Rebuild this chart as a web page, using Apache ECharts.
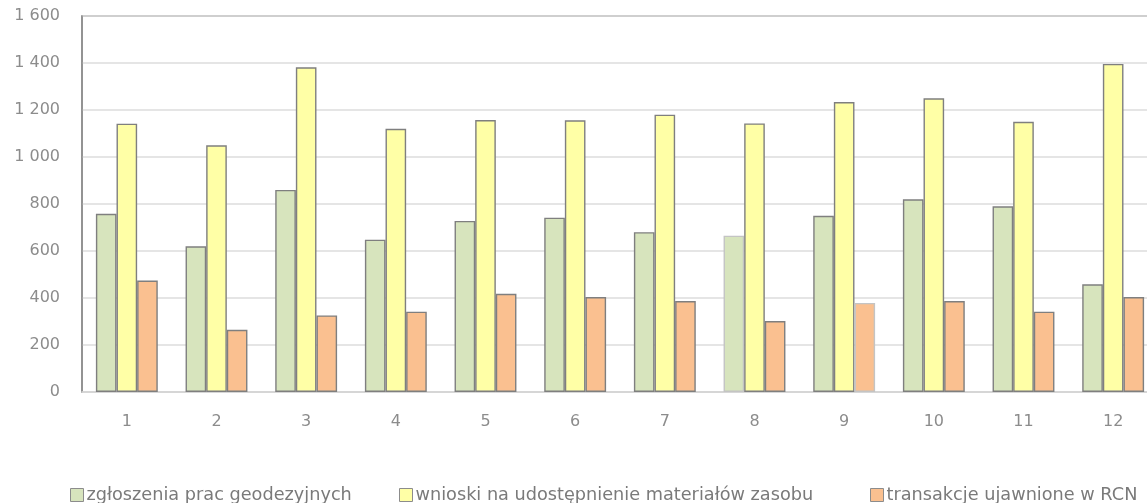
<!DOCTYPE html>
<html>
<head>
<meta charset="utf-8">
<script src="https://cdn.jsdelivr.net/npm/echarts@6/dist/echarts.min.js"></script>
<style>html,body{margin:0;padding:0;background:#fff}#c{width:1147px;height:503px}</style>
</head>
<body>
<div id="c"></div>
<script>
var categories = ['1','2','3','4','5','6','7','8','9','10','11','12'];
var seriesNames = ['zgłoszenia prac geodezyjnych','wnioski na udostępnienie materiałów zasobu','transakcje ujawnione w RCN'];
var zgloszenia = [758, 620, 860, 648, 728, 742, 680, 665, 750, 820, 790, 458];
var wnioski = [1142, 1050, 1382, 1120, 1157, 1156, 1180, 1143, 1234, 1250, 1150, 1396];
var transakcje = [474, 265, 326, 342, 418, 404, 387, 302, 379, 387, 342, 404];
var yTicks = [0, 200, 400, 600, 800, 1000, 1200, 1400, 1600];

var colors = ['#D7E4BD', '#FFFFA6', '#FAC090'];
var border = '#7f7f7f';
var lightBorder = '#c4c4c4';
var FONT = 'DejaVu Sans';

function mk(values, lightIdx) {
  return values.map(function (v, i) {
    if (lightIdx.indexOf(i) >= 0) return {value: v, itemStyle: {borderColor: lightBorder}};
    return v;
  });
}
var seriesData = [mk(zgloszenia, [7]), mk(wnioski, []), mk(transakcje, [8])];

var chart = echarts.init(document.getElementById('c'), null, {renderer: 'canvas'});
var legendPos = [68, 397, 868];
var option = {
  animation: false,
  backgroundColor: '#fff',
  grid: {left: 82, top: 16, width: 1076, height: 376, outerBoundsMode: 'none', containLabel: false,
         show: true, borderColor: '#8c8c8c', borderWidth: 1.5},
  legend: seriesNames.map(function (n, i) {
    return {
      data: [n], left: legendPos[i], top: 484, itemWidth: 13, itemHeight: 13, itemGap: 5,
      icon: 'rect', selectedMode: false, padding: 2,
      itemStyle: {borderColor: '#8c8c8c', borderWidth: 1},
      textStyle: {fontFamily: FONT, fontSize: 17.7, color: '#7a7a7a', padding: [0, 0, 0, -2]}
    };
  }),
  xAxis: {
    type: 'category', data: categories,
    axisLine: {show: true, lineStyle: {color: '#d9d9d9', width: 1.5}},
    axisTick: {show: false},
    axisLabel: {margin: 22, fontFamily: FONT, fontSize: 16, color: '#8c8c8c'}
  },
  yAxis: {
    type: 'value', min: yTicks[0], max: yTicks[yTicks.length - 1], interval: yTicks[1] - yTicks[0],
    axisLine: {show: true, lineStyle: {color: '#8c8c8c', width: 1.5}},
    axisTick: {show: false},
    splitLine: {lineStyle: {color: '#dcdcdc', width: 1.5}},
    axisLabel: {
      margin: 22, fontFamily: FONT, fontSize: 16, color: '#8c8c8c',
      formatter: function (v) { return String(v).replace(/\B(?=(\d{3})+(?!\d))/g, ' '); }
    }
  },
  series: seriesNames.map(function (n, i) {
    return {
      name: n, type: 'bar', data: seriesData[i], barWidth: '23%', barGap: '0%',
      itemStyle: {color: colors[i], borderColor: border, borderWidth: 1.4}
    };
  })
};
chart.setOption(option);
</script>
</body>
</html>
